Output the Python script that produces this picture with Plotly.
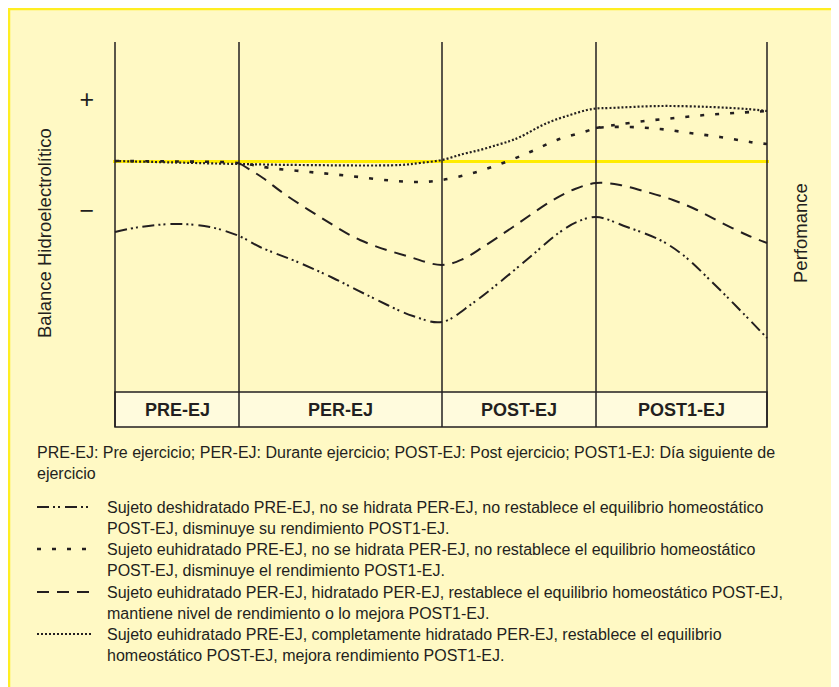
import plotly.graph_objects as go

# ---------------- data ----------------
phase_labels = ["PRE-EJ", "PER-EJ", "POST-EJ", "POST1-EJ"]
phase_edges = [0, 124, 327, 481, 652]          # time units
sign_ticks = [6.2, -4.9]
sign_text = ["+", "\u2212"]

# Sujeto deshidratado PRE-EJ ...
t_desh = [0, 25, 60, 95, 124, 145, 185, 218, 252, 298, 327, 358, 385, 415, 445, 462, 481,
          512, 545, 568, 598, 622, 652]
b_desh = [-7.1, -6.6, -6.3, -6.6, -7.5, -8.6, -10.2, -11.7, -13.4, -15.5, -16.1, -14.2, -12.1,
          -9.6, -7.1, -6.1, -5.6, -6.6, -7.9, -9.4, -12.2, -14.6, -17.7]

# Sujeto euhidratado PRE-EJ, no se hidrata PER-EJ ...
t_nohid = [0, 60, 124, 155, 195, 235, 275, 305, 327, 358, 388, 415, 442, 472, 481, 515, 545,
           575, 605, 635, 652]
b_nohid = [0.0, -0.05, -0.2, -0.7, -1.1, -1.5, -1.95, -2.1, -1.9, -1.2, -0.2, 0.9, 2.1, 3.0,
           3.3, 3.4, 3.2, 2.8, 2.4, 1.9, 1.7]
# upper branch of the same pattern in POST1-EJ
t_nohid_b = [481, 500, 530, 560, 590, 620, 652]
b_nohid_b = [3.3, 3.6, 4.0, 4.3, 4.6, 4.8, 5.0]

# Sujeto euhidratado, hidratado PER-EJ ... (starts in PER-EJ)
t_hid = [124, 148, 168, 205, 245, 295, 327, 348, 368, 398, 438, 460, 481, 505, 532, 558,
         582, 605, 632, 652]
b_hid = [-0.2, -1.7, -3.2, -5.6, -7.9, -9.6, -10.4, -9.8, -8.6, -6.6, -3.9, -2.8, -2.2,
         -2.4, -3.1, -3.9, -4.9, -6.1, -7.4, -8.2]

# Sujeto euhidratado PRE-EJ, completamente hidratado PER-EJ ...
t_comp = [0, 124, 185, 285, 305, 327, 348, 365, 382, 395, 405, 432, 455, 472, 481, 495, 545,
          595, 632, 652]
b_comp = [0.0, -0.3, -0.4, -0.4, -0.2, 0.1, 0.7, 1.1, 1.6, 2.0, 2.4, 3.8, 4.6, 5.1, 5.25,
          5.3, 5.5, 5.4, 5.2, 5.0]

names = [
    "Sujeto deshidratado PRE-EJ, no se hidrata PER-EJ, no restablece el equilibrio homeostático<br>POST-EJ, disminuye su rendimiento POST1-EJ.",
    "Sujeto euhidratado PRE-EJ, no se hidrata PER-EJ, no restablece el equilibrio homeostático<br>POST-EJ, disminuye el rendimiento POST1-EJ.",
    "Sujeto euhidratado PER-EJ, hidratado PER-EJ, restablece el equilibrio homeostático POST-EJ,<br>mantiene nivel de rendimiento o lo mejora POST1-EJ.",
    "Sujeto euhidratado PRE-EJ, completamente hidratado PER-EJ, restablece el equilibrio<br>homeostático POST-EJ, mejora rendimiento POST1-EJ.",
]
header = ("PRE-EJ: Pre ejercicio; PER-EJ: Durante ejercicio; POST-EJ: Post ejercicio; "
          "POST1-EJ: Día siguiente de<br>ejercicio")
y_title = "Balance Hidroelectrolítico"
y2_title = "Perfomance"

# ---------------- style ----------------
OFF = 8                      # page offset of the figure (body margin)
W, H = 839, 687
L, R, T, B = 105, 78, 32, 266
PW, PH = W - L - R, H - T - B
def px_x(px):                # page pixel -> paper x
    return (px - OFF - L) / PW
def px_y(py):                # page pixel -> paper y
    return (H - B - (py - OFF)) / PH

INK = "#231F20"
BG = "#FFF9C4"
BORDER = "#FFEE22"
FONT = "Liberation Sans, Arial, Helvetica, sans-serif"

styles = [
    dict(dash="12px,4px,2px,3px,2px,5px", width=2.0),
    dict(dash="4px,11px", width=2.6),
    dict(dash="12px,8px", width=2.0),
    dict(dash="2px,2px", width=2.2),
]

fig = go.Figure()
curves = [(t_desh, b_desh, 0), (t_nohid, b_nohid, 1), (t_nohid_b, b_nohid_b, 1),
          (t_hid, b_hid, 2), (t_comp, b_comp, 3)]
for tx, by, k in curves:
    fig.add_trace(go.Scatter(
        x=tx, y=by, mode="lines", name=names[k].replace("<br>", " "), showlegend=False,
        line=dict(color=INK, width=styles[k]["width"], dash=styles[k]["dash"],
                  shape="spline", smoothing=1.0),
        hoverinfo="skip"))

shapes = []
# panel border (top and left edges)
shapes.append(dict(type="line", xref="paper", yref="paper", layer="below",
                   x0=px_x(OFF), x1=px_x(W + 20), y0=px_y(OFF + 1), y1=px_y(OFF + 1),
                   line=dict(color=BORDER, width=2.5)))
shapes.append(dict(type="line", xref="paper", yref="paper", layer="below",
                   x0=px_x(OFF + 1), x1=px_x(OFF + 1), y0=px_y(OFF), y1=px_y(H + 20),
                   line=dict(color=BORDER, width=2.5)))

y_top = 11.9
box_bot, box_top = -26.6, -23.1
shapes.append(dict(type="rect", xref="x", yref="y", layer="below",
                   x0=phase_edges[0], x1=phase_edges[-1], y0=box_bot, y1=box_top,
                   fillcolor="#FFFBDD", line=dict(color=INK, width=1.5)))
for e in phase_edges:
    shapes.append(dict(type="line", xref="x", yref="y", x0=e, x1=e, y0=box_bot, y1=y_top,
                       line=dict(color=INK, width=1.5)))

annotations = []
for i, lab in enumerate(phase_labels):
    annotations.append(dict(x=(phase_edges[i] + phase_edges[i + 1]) / 2, y=(box_bot + box_top) / 2,
                            xref="x", yref="y", text=lab, showarrow=False,
                            font=dict(family=FONT, size=18, color=INK, weight="bold")))

annotations.append(dict(x=px_x(44), y=px_y(233), xref="paper", yref="paper", text=y_title,
                        xanchor="center", yanchor="middle",
                        textangle=-90, showarrow=False, font=dict(family=FONT, size=18.5, color=INK)))
annotations.append(dict(x=px_x(800), y=px_y(233), xref="paper", yref="paper", text=y2_title,
                        xanchor="center", yanchor="middle",
                        textangle=-90, showarrow=False, font=dict(family=FONT, size=18.5, color=INK)))

annotations.append(dict(x=px_x(35), y=px_y(463), xref="paper", yref="paper", text=header,
                        xanchor="left", yanchor="middle", align="left", showarrow=False,
                        font=dict(family=FONT, size=16, color=INK)))

leg_rows = [507, 549, 592, 634]
for k, row in enumerate(leg_rows):
    shapes.append(dict(type="line", xref="paper", yref="paper",
                       x0=px_x(37), x1=px_x(92), y0=px_y(row), y1=px_y(row),
                       line=dict(color=INK, width=styles[k]["width"] * 0.9, dash=styles[k]["dash"])))
    annotations.append(dict(x=px_x(105), y=px_y(row + 10.5), xref="paper", yref="paper",
                            text=names[k], xanchor="left", yanchor="middle", align="left",
                            showarrow=False, font=dict(family=FONT, size=16, color=INK)))

fig.update_layout(
    width=W, height=H,
    margin=dict(l=L, r=R, t=T, b=B, pad=0),
    paper_bgcolor=BG, plot_bgcolor="rgba(0,0,0,0)",
    showlegend=False,
    xaxis=dict(range=[-2, 654], showgrid=False, zeroline=False, showticklabels=False,
               showline=False, ticks="", fixedrange=True),
    yaxis=dict(range=[-26.8, 12.1], showgrid=False, showline=False, ticks="",
               tickvals=sign_ticks, ticktext=sign_text, ticklabelstandoff=18,
               tickfont=dict(family=FONT, size=25, color=INK),
               zeroline=True, zerolinecolor="#FFEC00", zerolinewidth=3, fixedrange=True),
    shapes=shapes, annotations=annotations,
)

fig.write_html("out.html")
